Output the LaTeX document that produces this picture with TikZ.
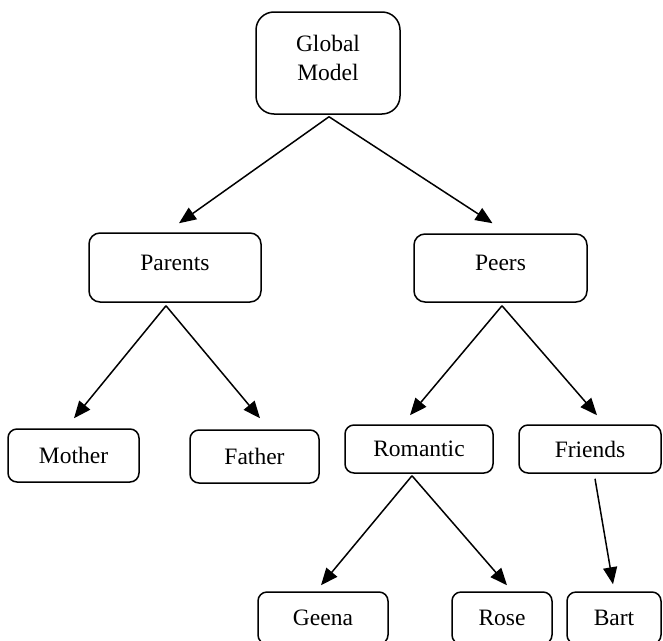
\documentclass[tikz,border=0pt]{standalone}
\usepackage{fontspec}
\setmainfont{Liberation Serif}
\usetikzlibrary{arrows.meta}

\tikzset{
  box/.style={draw, line width=1.5pt, inner sep=0pt, align=center,
    font=\fontsize{23.5}{29}\selectfont, rounded corners=9pt},
  arr/.style={line width=1.5pt, -{Triangle[length=17pt,width=14pt]}}
}

\begin{document}
\begin{tikzpicture}[x=1pt, y=-1pt]
  \useasboundingbox (0,0) rectangle (663,640);
  \clip (0,0) rectangle (663,640);

  % top level
  \node[box, rounded corners=18pt, minimum width=144pt, minimum height=102pt, text depth=10pt]
    (gm) at (328,63) {Global\\Model};

  % second level
  \node[box, rounded corners=11pt, minimum width=172pt, minimum height=69pt, text depth=10pt]
    (par) at (175,267.5) {Parents};
  \node[box, rounded corners=11pt, minimum width=173pt, minimum height=68pt, text depth=10pt]
    (peer) at (500.5,268) {Peers};

  % third level
  \node[box, minimum width=131pt, minimum height=53pt] (mom) at (73.5,455.5) {Mother};
  \node[box, minimum width=129pt, minimum height=53pt] (dad) at (254.5,456.5) {Father};
  \node[box, minimum width=148pt, minimum height=48pt] (rom) at (419,449) {Romantic};
  \node[box, minimum width=142pt, minimum height=48pt] (fr) at (590,449) {Friends};

  % bottom level
  \node[box, minimum width=130pt, minimum height=52pt] (gee) at (323,618) {Geena};
  \node[box, minimum width=100pt, minimum height=52pt] (rose) at (502,618) {Rose};
  \node[box, minimum width=94pt, minimum height=52pt] (bart) at (614,618) {Bart};

  % connectors
  \draw[arr] ([shift={(1,2)}]gm.south) -- ([shift={(4,-9)}]par.north);
  \draw[arr] ([shift={(1,2)}]gm.south) -- ([shift={(-8,-10)}]peer.north);
  \draw[arr] ([shift={(-9,3)}]par.south) -- ([shift={(0.5,-10)}]mom.north);
  \draw[arr] ([shift={(-9,3)}]par.south) -- ([shift={(5.5,-11)}]dad.north);
  \draw[arr] ([shift={(1.5,3)}]peer.south) -- ([shift={(-9,-9)}]rom.north);
  \draw[arr] ([shift={(1.5,3)}]peer.south) -- ([shift={(7,-9)}]fr.north);
  \draw[arr] ([shift={(-7,2)}]rom.south) -- ([shift={(-2,-6)}]gee.north);
  \draw[arr] ([shift={(-7,2)}]rom.south) -- ([shift={(5,-6)}]rose.north);
  \draw[arr] ([shift={(5,5)}]fr.south) -- ([shift={(-1,-7)}]bart.north);
\end{tikzpicture}
\end{document}
